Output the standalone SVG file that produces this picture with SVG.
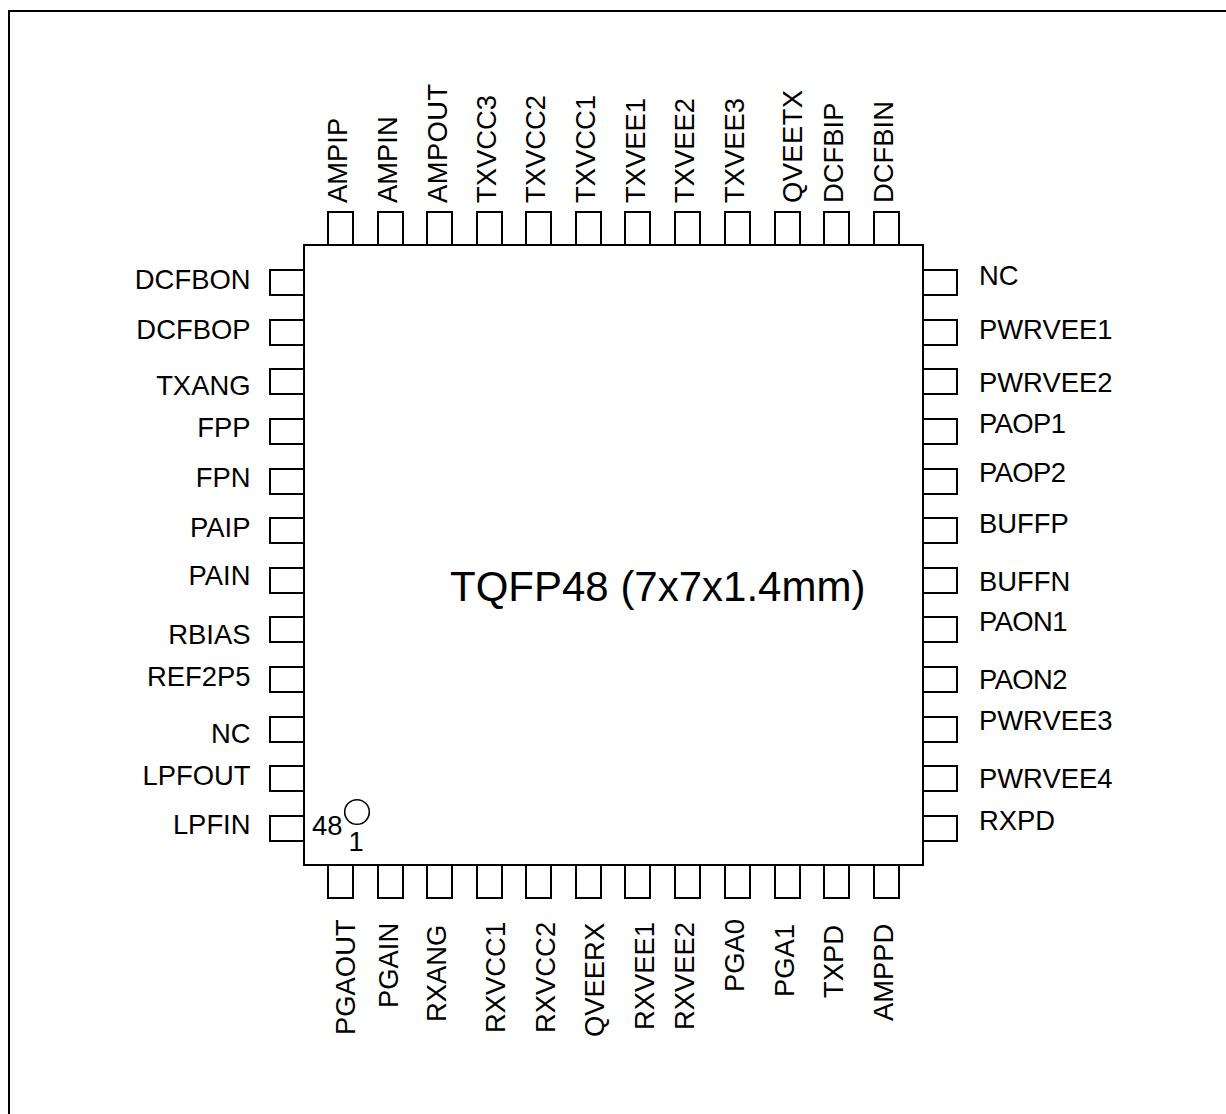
<svg xmlns="http://www.w3.org/2000/svg" width="1226" height="1114" viewBox="0 0 1226 1114">
<style>
.s{fill:#fff;stroke:#000;stroke-width:2}
.c{stroke-width:1.6}
text{font-family:"Liberation Sans",Arial,sans-serif;font-size:27.4px;fill:#000}
.e{text-anchor:end}
.t{font-size:42px}
.k{letter-spacing:-.6px}
.w{letter-spacing:.4px}
</style>
<rect width="1226" height="1114" fill="#fff"/>
<path d="M1226 11H9V1114" fill="none" stroke="#000" stroke-width="2"/>
<g id="top-pins">
<rect class="s" x="328" y="212" width="25" height="33"/><rect class="s" x="378" y="212" width="25" height="33"/><rect class="s" x="427" y="212" width="25" height="33"/><rect class="s" x="477" y="212" width="25" height="33"/><rect class="s" x="526" y="212" width="25" height="33"/><rect class="s" x="576" y="212" width="25" height="33"/><rect class="s" x="625" y="212" width="25" height="33"/><rect class="s" x="675" y="212" width="25" height="33"/><rect class="s" x="725" y="212" width="25" height="33"/><rect class="s" x="775" y="212" width="25" height="33"/><rect class="s" x="824" y="212" width="25" height="33"/><rect class="s" x="874" y="212" width="25" height="33"/>
</g>
<g id="bottom-pins">
<rect class="s" x="328" y="865" width="25" height="33"/><rect class="s" x="378" y="865" width="25" height="33"/><rect class="s" x="427" y="865" width="25" height="33"/><rect class="s" x="477" y="865" width="25" height="33"/><rect class="s" x="526" y="865" width="25" height="33"/><rect class="s" x="576" y="865" width="25" height="33"/><rect class="s" x="625" y="865" width="25" height="33"/><rect class="s" x="675" y="865" width="25" height="33"/><rect class="s" x="725" y="865" width="25" height="33"/><rect class="s" x="775" y="865" width="25" height="33"/><rect class="s" x="824" y="865" width="25" height="33"/><rect class="s" x="874" y="865" width="25" height="33"/>
</g>
<g id="left-pins">
<rect class="s" x="270" y="270" width="34" height="25"/><rect class="s" x="270" y="320" width="34" height="25"/><rect class="s" x="270" y="369" width="34" height="25"/><rect class="s" x="270" y="419" width="34" height="25"/><rect class="s" x="270" y="469" width="34" height="25"/><rect class="s" x="270" y="518" width="34" height="25"/><rect class="s" x="270" y="568" width="34" height="25"/><rect class="s" x="270" y="617" width="34" height="25"/><rect class="s" x="270" y="667" width="34" height="25"/><rect class="s" x="270" y="717" width="34" height="25"/><rect class="s" x="270" y="766" width="34" height="25"/><rect class="s" x="270" y="816" width="34" height="25"/>
</g>
<g id="right-pins">
<rect class="s" x="923" y="270" width="34" height="25"/><rect class="s" x="923" y="320" width="34" height="25"/><rect class="s" x="923" y="369" width="34" height="25"/><rect class="s" x="923" y="419" width="34" height="25"/><rect class="s" x="923" y="469" width="34" height="25"/><rect class="s" x="923" y="518" width="34" height="25"/><rect class="s" x="923" y="568" width="34" height="25"/><rect class="s" x="923" y="617" width="34" height="25"/><rect class="s" x="923" y="667" width="34" height="25"/><rect class="s" x="923" y="717" width="34" height="25"/><rect class="s" x="923" y="766" width="34" height="25"/><rect class="s" x="923" y="816" width="34" height="25"/>
</g>
<g id="body"><rect class="s" x="304" y="245" width="619" height="620"/>
<circle class="s c" cx="357" cy="812" r="12.300"/>
<text x="312" y="835">48</text><text x="348.500" y="850.500">1</text>
<text class="t" x="450" y="601">TQFP48 (7x7x1.4mm)</text></g>
<g id="left-labels">
<text class="e" x="250.500" y="289">DCFBON</text><text class="e" x="250.500" y="339">DCFBOP</text><text class="e" x="250.500" y="395">TXANG</text><text class="e" x="250.500" y="437">FPP</text><text class="e" x="250.500" y="487">FPN</text><text class="e" x="250.500" y="537">PAIP</text><text class="e" x="250.500" y="585">PAIN</text><text class="e" x="250.500" y="644">RBIAS</text><text class="e" x="250.500" y="686">REF2P5</text><text class="e" x="250.500" y="743">NC</text><text class="e" x="250.500" y="785">LPFOUT</text><text class="e" x="250.500" y="834">LPFIN</text>
</g>
<g id="right-labels">
<text x="979" y="285">NC</text><text x="979" y="339">PWRVEE1</text><text x="979" y="392">PWRVEE2</text><text class="k" x="979" y="433">PAOP1</text><text class="k" x="979" y="482">PAOP2</text><text x="979" y="533">BUFFP</text><text x="979" y="591">BUFFN</text><text class="k" x="979" y="631">PAON1</text><text class="k" x="979" y="689">PAON2</text><text x="979" y="730">PWRVEE3</text><text x="979" y="788">PWRVEE4</text><text x="979" y="830">RXPD</text>
</g>
<g id="top-labels">
<text transform="translate(346.500 203) rotate(-90)">AMPIP</text><text transform="translate(397 203) rotate(-90)">AMPIN</text><text class="w" transform="translate(447 203) rotate(-90)">AMPOUT</text><text transform="translate(496 203) rotate(-90)">TXVCC3</text><text transform="translate(545 203) rotate(-90)">TXVCC2</text><text transform="translate(595 203) rotate(-90)">TXVCC1</text><text transform="translate(645 203) rotate(-90)">TXVEE1</text><text transform="translate(694 203) rotate(-90)">TXVEE2</text><text transform="translate(744 203) rotate(-90)">TXVEE3</text><text class="w" transform="translate(801.500 203) rotate(-90)">QVEETX</text><text transform="translate(843 203) rotate(-90)">DCFBIP</text><text transform="translate(893 203) rotate(-90)">DCFBIN</text>
</g>
<g id="bottom-labels">
<text transform="translate(355 1035) rotate(-90)">PGAOUT</text><text transform="translate(398 1008) rotate(-90)">PGAIN</text><text transform="translate(446 1022) rotate(-90)">RXANG</text><text transform="translate(504.500 1033) rotate(-90)">RXVCC1</text><text transform="translate(554.500 1033) rotate(-90)">RXVCC2</text><text transform="translate(604 1037) rotate(-90)">QVEERX</text><text transform="translate(653.500 1030) rotate(-90)">RXVEE1</text><text transform="translate(694 1030) rotate(-90)">RXVEE2</text><text transform="translate(744 992) rotate(-90)">PGA0</text><text transform="translate(794 997) rotate(-90)">PGA1</text><text transform="translate(843 998) rotate(-90)">TXPD</text><text transform="translate(893 1021) rotate(-90)">AMPPD</text>
</g>
</svg>
